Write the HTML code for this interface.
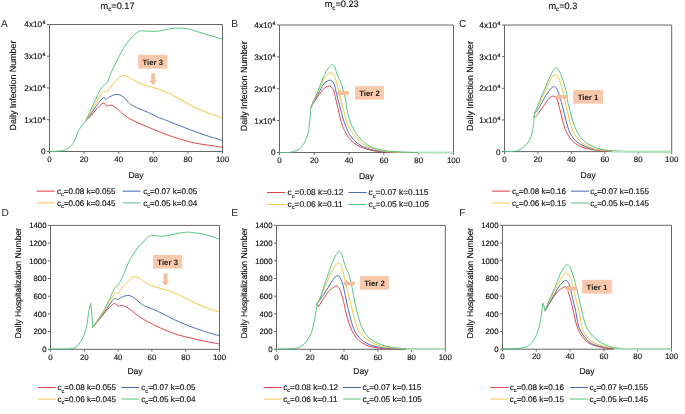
<!DOCTYPE html>
<html><head><meta charset="utf-8"><style>
html,body{margin:0;padding:0;background:#fff;}
svg{display:block;will-change:transform;text-rendering:geometricPrecision;}
text{stroke:#111;stroke-width:0.15px;}
svg{font-family:"Liberation Sans", sans-serif;}
</style></head><body>
<svg width="685" height="414" viewBox="0 0 685 414">
<rect width="685" height="414" fill="#ffffff"/>
<text x="100.6" y="8.8" font-size="9.2" fill="#111">m<tspan font-size="6.2" dy="2.4">c</tspan><tspan dy="-2.4">=0.17</tspan></text>
<text x="324.7" y="7.1" font-size="9.2" fill="#111">m<tspan font-size="6.2" dy="2.4">c</tspan><tspan dy="-2.4">=0.23</tspan></text>
<text x="548.4" y="8.9" font-size="9.2" fill="#111">m<tspan font-size="6.2" dy="2.4">c</tspan><tspan dy="-2.4">=0.3</tspan></text>
<path d="M49.50,24.50 H222.50 V151.50" stroke="#666666" stroke-width="1" fill="none"/>
<path d="M49.50,24.50 V151.50 H222.50" stroke="#666666" stroke-width="1" fill="none"/>
<path d="M49.50,151.50 V153.80" stroke="#666666" stroke-width="1"/>
<text x="49.50" y="161.70" font-size="7.90" text-anchor="middle" font-weight="normal" fill="#111" >0</text>
<path d="M84.10,151.50 V153.80" stroke="#666666" stroke-width="1"/>
<text x="84.10" y="161.70" font-size="7.90" text-anchor="middle" font-weight="normal" fill="#111" >20</text>
<path d="M118.70,151.50 V153.80" stroke="#666666" stroke-width="1"/>
<text x="118.70" y="161.70" font-size="7.90" text-anchor="middle" font-weight="normal" fill="#111" >40</text>
<path d="M153.30,151.50 V153.80" stroke="#666666" stroke-width="1"/>
<text x="153.30" y="161.70" font-size="7.90" text-anchor="middle" font-weight="normal" fill="#111" >60</text>
<path d="M187.90,151.50 V153.80" stroke="#666666" stroke-width="1"/>
<text x="187.90" y="161.70" font-size="7.90" text-anchor="middle" font-weight="normal" fill="#111" >80</text>
<path d="M222.50,151.50 V153.80" stroke="#666666" stroke-width="1"/>
<text x="222.50" y="161.70" font-size="7.90" text-anchor="middle" font-weight="normal" fill="#111" >100</text>
<path d="M47.00,151.50 H49.50" stroke="#666666" stroke-width="1"/>
<text x="45.50" y="154.40" font-size="8.20" text-anchor="end" font-weight="normal" fill="#111" >0</text>
<path d="M47.00,119.75 H49.50" stroke="#666666" stroke-width="1"/>
<text x="45.30" y="122.65" font-size="8.2" text-anchor="end" fill="#111">1x10<tspan font-size="5.2" dy="-3.0" dx="0.3">4</tspan></text>
<path d="M47.00,88.00 H49.50" stroke="#666666" stroke-width="1"/>
<text x="45.30" y="90.90" font-size="8.2" text-anchor="end" fill="#111">2x10<tspan font-size="5.2" dy="-3.0" dx="0.3">4</tspan></text>
<path d="M47.00,56.25 H49.50" stroke="#666666" stroke-width="1"/>
<text x="45.30" y="59.15" font-size="8.2" text-anchor="end" fill="#111">3x10<tspan font-size="5.2" dy="-3.0" dx="0.3">4</tspan></text>
<path d="M47.00,24.50 H49.50" stroke="#666666" stroke-width="1"/>
<text x="45.30" y="27.40" font-size="8.2" text-anchor="end" fill="#111">4x10<tspan font-size="5.2" dy="-3.0" dx="0.3">4</tspan></text>
<text x="136.00" y="177.50" font-size="8.50" text-anchor="middle" font-weight="normal" fill="#111" >Day</text>
<text transform="translate(16.20,85.50) rotate(-90)" font-size="8.88" text-anchor="middle" fill="#111">Daily Infection Number</text>
<text x="1.00" y="26.90" font-size="10.20" text-anchor="start" font-weight="normal" fill="#2a2a2a" style="stroke:none">A</text>
<path d="M279.50,25.00 H453.50 V152.50" stroke="#666666" stroke-width="1" fill="none"/>
<path d="M279.50,25.00 V152.50 H453.50" stroke="#666666" stroke-width="1" fill="none"/>
<path d="M279.50,152.50 V154.80" stroke="#666666" stroke-width="1"/>
<text x="279.50" y="162.70" font-size="7.90" text-anchor="middle" font-weight="normal" fill="#111" >0</text>
<path d="M314.30,152.50 V154.80" stroke="#666666" stroke-width="1"/>
<text x="314.30" y="162.70" font-size="7.90" text-anchor="middle" font-weight="normal" fill="#111" >20</text>
<path d="M349.10,152.50 V154.80" stroke="#666666" stroke-width="1"/>
<text x="349.10" y="162.70" font-size="7.90" text-anchor="middle" font-weight="normal" fill="#111" >40</text>
<path d="M383.90,152.50 V154.80" stroke="#666666" stroke-width="1"/>
<text x="383.90" y="162.70" font-size="7.90" text-anchor="middle" font-weight="normal" fill="#111" >60</text>
<path d="M418.70,152.50 V154.80" stroke="#666666" stroke-width="1"/>
<text x="418.70" y="162.70" font-size="7.90" text-anchor="middle" font-weight="normal" fill="#111" >80</text>
<path d="M453.50,152.50 V154.80" stroke="#666666" stroke-width="1"/>
<text x="453.50" y="162.70" font-size="7.90" text-anchor="middle" font-weight="normal" fill="#111" >100</text>
<path d="M277.00,152.50 H279.50" stroke="#666666" stroke-width="1"/>
<text x="275.50" y="155.40" font-size="8.20" text-anchor="end" font-weight="normal" fill="#111" >0</text>
<path d="M277.00,120.62 H279.50" stroke="#666666" stroke-width="1"/>
<text x="275.30" y="123.53" font-size="8.2" text-anchor="end" fill="#111">1x10<tspan font-size="5.2" dy="-3.0" dx="0.3">4</tspan></text>
<path d="M277.00,88.75 H279.50" stroke="#666666" stroke-width="1"/>
<text x="275.30" y="91.65" font-size="8.2" text-anchor="end" fill="#111">2x10<tspan font-size="5.2" dy="-3.0" dx="0.3">4</tspan></text>
<path d="M277.00,56.88 H279.50" stroke="#666666" stroke-width="1"/>
<text x="275.30" y="59.77" font-size="8.2" text-anchor="end" fill="#111">3x10<tspan font-size="5.2" dy="-3.0" dx="0.3">4</tspan></text>
<path d="M277.00,25.00 H279.50" stroke="#666666" stroke-width="1"/>
<text x="275.30" y="27.90" font-size="8.2" text-anchor="end" fill="#111">4x10<tspan font-size="5.2" dy="-3.0" dx="0.3">4</tspan></text>
<text x="366.50" y="178.50" font-size="8.50" text-anchor="middle" font-weight="normal" fill="#111" >Day</text>
<text transform="translate(246.80,86.30) rotate(-90)" font-size="8.88" text-anchor="middle" fill="#111">Daily Infection Number</text>
<text x="231.30" y="26.90" font-size="10.20" text-anchor="start" font-weight="normal" fill="#2a2a2a" style="stroke:none">B</text>
<path d="M504.50,25.00 H671.70 V151.60" stroke="#666666" stroke-width="1" fill="none"/>
<path d="M504.50,25.00 V151.60 H671.70" stroke="#666666" stroke-width="1" fill="none"/>
<path d="M504.50,151.60 V153.90" stroke="#666666" stroke-width="1"/>
<text x="504.50" y="161.80" font-size="7.90" text-anchor="middle" font-weight="normal" fill="#111" >0</text>
<path d="M537.94,151.60 V153.90" stroke="#666666" stroke-width="1"/>
<text x="537.94" y="161.80" font-size="7.90" text-anchor="middle" font-weight="normal" fill="#111" >20</text>
<path d="M571.38,151.60 V153.90" stroke="#666666" stroke-width="1"/>
<text x="571.38" y="161.80" font-size="7.90" text-anchor="middle" font-weight="normal" fill="#111" >40</text>
<path d="M604.82,151.60 V153.90" stroke="#666666" stroke-width="1"/>
<text x="604.82" y="161.80" font-size="7.90" text-anchor="middle" font-weight="normal" fill="#111" >60</text>
<path d="M638.26,151.60 V153.90" stroke="#666666" stroke-width="1"/>
<text x="638.26" y="161.80" font-size="7.90" text-anchor="middle" font-weight="normal" fill="#111" >80</text>
<path d="M671.70,151.60 V153.90" stroke="#666666" stroke-width="1"/>
<text x="671.70" y="161.80" font-size="7.90" text-anchor="middle" font-weight="normal" fill="#111" >100</text>
<path d="M502.00,151.60 H504.50" stroke="#666666" stroke-width="1"/>
<text x="500.50" y="154.50" font-size="8.20" text-anchor="end" font-weight="normal" fill="#111" >0</text>
<path d="M502.00,119.95 H504.50" stroke="#666666" stroke-width="1"/>
<text x="500.30" y="122.85" font-size="8.2" text-anchor="end" fill="#111">1x10<tspan font-size="5.2" dy="-3.0" dx="0.3">4</tspan></text>
<path d="M502.00,88.30 H504.50" stroke="#666666" stroke-width="1"/>
<text x="500.30" y="91.20" font-size="8.2" text-anchor="end" fill="#111">2x10<tspan font-size="5.2" dy="-3.0" dx="0.3">4</tspan></text>
<path d="M502.00,56.65 H504.50" stroke="#666666" stroke-width="1"/>
<text x="500.30" y="59.55" font-size="8.2" text-anchor="end" fill="#111">3x10<tspan font-size="5.2" dy="-3.0" dx="0.3">4</tspan></text>
<path d="M502.00,25.00 H504.50" stroke="#666666" stroke-width="1"/>
<text x="500.30" y="27.90" font-size="8.2" text-anchor="end" fill="#111">4x10<tspan font-size="5.2" dy="-3.0" dx="0.3">4</tspan></text>
<text x="588.10" y="177.60" font-size="8.50" text-anchor="middle" font-weight="normal" fill="#111" >Day</text>
<text transform="translate(473.30,86.00) rotate(-90)" font-size="8.88" text-anchor="middle" fill="#111">Daily Infection Number</text>
<text x="459.10" y="26.90" font-size="10.20" text-anchor="start" font-weight="normal" fill="#2a2a2a" style="stroke:none">C</text>
<path d="M50.50,225.40 H219.50 V349.30" stroke="#666666" stroke-width="1" fill="none"/>
<path d="M50.50,225.40 V349.30 H219.50" stroke="#666666" stroke-width="1" fill="none"/>
<path d="M50.50,349.30 V351.60" stroke="#666666" stroke-width="1"/>
<text x="50.50" y="359.50" font-size="7.90" text-anchor="middle" font-weight="normal" fill="#111" >0</text>
<path d="M84.30,349.30 V351.60" stroke="#666666" stroke-width="1"/>
<text x="84.30" y="359.50" font-size="7.90" text-anchor="middle" font-weight="normal" fill="#111" >20</text>
<path d="M118.10,349.30 V351.60" stroke="#666666" stroke-width="1"/>
<text x="118.10" y="359.50" font-size="7.90" text-anchor="middle" font-weight="normal" fill="#111" >40</text>
<path d="M151.90,349.30 V351.60" stroke="#666666" stroke-width="1"/>
<text x="151.90" y="359.50" font-size="7.90" text-anchor="middle" font-weight="normal" fill="#111" >60</text>
<path d="M185.70,349.30 V351.60" stroke="#666666" stroke-width="1"/>
<text x="185.70" y="359.50" font-size="7.90" text-anchor="middle" font-weight="normal" fill="#111" >80</text>
<path d="M219.50,349.30 V351.60" stroke="#666666" stroke-width="1"/>
<text x="219.50" y="359.50" font-size="7.90" text-anchor="middle" font-weight="normal" fill="#111" >100</text>
<path d="M48.00,349.30 H50.50" stroke="#666666" stroke-width="1"/>
<text x="46.50" y="352.15" font-size="7.80" text-anchor="end" font-weight="normal" fill="#111" >0</text>
<path d="M48.00,331.60 H50.50" stroke="#666666" stroke-width="1"/>
<text x="46.50" y="334.45" font-size="7.80" text-anchor="end" font-weight="normal" fill="#111" >200</text>
<path d="M48.00,313.90 H50.50" stroke="#666666" stroke-width="1"/>
<text x="46.50" y="316.75" font-size="7.80" text-anchor="end" font-weight="normal" fill="#111" >400</text>
<path d="M48.00,296.20 H50.50" stroke="#666666" stroke-width="1"/>
<text x="46.50" y="299.05" font-size="7.80" text-anchor="end" font-weight="normal" fill="#111" >600</text>
<path d="M48.00,278.50 H50.50" stroke="#666666" stroke-width="1"/>
<text x="46.50" y="281.35" font-size="7.80" text-anchor="end" font-weight="normal" fill="#111" >800</text>
<path d="M48.00,260.80 H50.50" stroke="#666666" stroke-width="1"/>
<text x="46.50" y="263.65" font-size="7.80" text-anchor="end" font-weight="normal" fill="#111" >1000</text>
<path d="M48.00,243.10 H50.50" stroke="#666666" stroke-width="1"/>
<text x="46.50" y="245.95" font-size="7.80" text-anchor="end" font-weight="normal" fill="#111" >1200</text>
<path d="M48.00,225.40 H50.50" stroke="#666666" stroke-width="1"/>
<text x="46.50" y="228.25" font-size="7.80" text-anchor="end" font-weight="normal" fill="#111" >1400</text>
<text x="135.00" y="373.90" font-size="8.50" text-anchor="middle" font-weight="normal" fill="#111" >Day</text>
<text transform="translate(21.10,283.20) rotate(-90)" font-size="8.64" text-anchor="middle" fill="#111">Daily Hospitalization Number</text>
<text x="1.40" y="215.50" font-size="10.20" text-anchor="start" font-weight="normal" fill="#2a2a2a" style="stroke:none">D</text>
<path d="M276.50,225.40 H445.30 V349.30" stroke="#666666" stroke-width="1" fill="none"/>
<path d="M276.50,225.40 V349.30 H445.30" stroke="#666666" stroke-width="1" fill="none"/>
<path d="M276.50,349.30 V351.60" stroke="#666666" stroke-width="1"/>
<text x="276.50" y="359.50" font-size="7.90" text-anchor="middle" font-weight="normal" fill="#111" >0</text>
<path d="M310.26,349.30 V351.60" stroke="#666666" stroke-width="1"/>
<text x="310.26" y="359.50" font-size="7.90" text-anchor="middle" font-weight="normal" fill="#111" >20</text>
<path d="M344.02,349.30 V351.60" stroke="#666666" stroke-width="1"/>
<text x="344.02" y="359.50" font-size="7.90" text-anchor="middle" font-weight="normal" fill="#111" >40</text>
<path d="M377.78,349.30 V351.60" stroke="#666666" stroke-width="1"/>
<text x="377.78" y="359.50" font-size="7.90" text-anchor="middle" font-weight="normal" fill="#111" >60</text>
<path d="M411.54,349.30 V351.60" stroke="#666666" stroke-width="1"/>
<text x="411.54" y="359.50" font-size="7.90" text-anchor="middle" font-weight="normal" fill="#111" >80</text>
<path d="M445.30,349.30 V351.60" stroke="#666666" stroke-width="1"/>
<text x="445.30" y="359.50" font-size="7.90" text-anchor="middle" font-weight="normal" fill="#111" >100</text>
<path d="M274.00,349.30 H276.50" stroke="#666666" stroke-width="1"/>
<text x="272.50" y="352.15" font-size="7.80" text-anchor="end" font-weight="normal" fill="#111" >0</text>
<path d="M274.00,331.60 H276.50" stroke="#666666" stroke-width="1"/>
<text x="272.50" y="334.45" font-size="7.80" text-anchor="end" font-weight="normal" fill="#111" >200</text>
<path d="M274.00,313.90 H276.50" stroke="#666666" stroke-width="1"/>
<text x="272.50" y="316.75" font-size="7.80" text-anchor="end" font-weight="normal" fill="#111" >400</text>
<path d="M274.00,296.20 H276.50" stroke="#666666" stroke-width="1"/>
<text x="272.50" y="299.05" font-size="7.80" text-anchor="end" font-weight="normal" fill="#111" >600</text>
<path d="M274.00,278.50 H276.50" stroke="#666666" stroke-width="1"/>
<text x="272.50" y="281.35" font-size="7.80" text-anchor="end" font-weight="normal" fill="#111" >800</text>
<path d="M274.00,260.80 H276.50" stroke="#666666" stroke-width="1"/>
<text x="272.50" y="263.65" font-size="7.80" text-anchor="end" font-weight="normal" fill="#111" >1000</text>
<path d="M274.00,243.10 H276.50" stroke="#666666" stroke-width="1"/>
<text x="272.50" y="245.95" font-size="7.80" text-anchor="end" font-weight="normal" fill="#111" >1200</text>
<path d="M274.00,225.40 H276.50" stroke="#666666" stroke-width="1"/>
<text x="272.50" y="228.25" font-size="7.80" text-anchor="end" font-weight="normal" fill="#111" >1400</text>
<text x="360.90" y="373.90" font-size="8.50" text-anchor="middle" font-weight="normal" fill="#111" >Day</text>
<text transform="translate(247.00,283.20) rotate(-90)" font-size="8.64" text-anchor="middle" fill="#111">Daily Hospitalization Number</text>
<text x="231.20" y="215.50" font-size="10.20" text-anchor="start" font-weight="normal" fill="#2a2a2a" style="stroke:none">E</text>
<path d="M502.50,225.30 H671.50 V349.20" stroke="#666666" stroke-width="1" fill="none"/>
<path d="M502.50,225.30 V349.20 H671.50" stroke="#666666" stroke-width="1" fill="none"/>
<path d="M502.50,349.20 V351.50" stroke="#666666" stroke-width="1"/>
<text x="502.50" y="359.40" font-size="7.90" text-anchor="middle" font-weight="normal" fill="#111" >0</text>
<path d="M536.30,349.20 V351.50" stroke="#666666" stroke-width="1"/>
<text x="536.30" y="359.40" font-size="7.90" text-anchor="middle" font-weight="normal" fill="#111" >20</text>
<path d="M570.10,349.20 V351.50" stroke="#666666" stroke-width="1"/>
<text x="570.10" y="359.40" font-size="7.90" text-anchor="middle" font-weight="normal" fill="#111" >40</text>
<path d="M603.90,349.20 V351.50" stroke="#666666" stroke-width="1"/>
<text x="603.90" y="359.40" font-size="7.90" text-anchor="middle" font-weight="normal" fill="#111" >60</text>
<path d="M637.70,349.20 V351.50" stroke="#666666" stroke-width="1"/>
<text x="637.70" y="359.40" font-size="7.90" text-anchor="middle" font-weight="normal" fill="#111" >80</text>
<path d="M671.50,349.20 V351.50" stroke="#666666" stroke-width="1"/>
<text x="671.50" y="359.40" font-size="7.90" text-anchor="middle" font-weight="normal" fill="#111" >100</text>
<path d="M500.00,349.20 H502.50" stroke="#666666" stroke-width="1"/>
<text x="498.50" y="352.05" font-size="7.80" text-anchor="end" font-weight="normal" fill="#111" >0</text>
<path d="M500.00,331.50 H502.50" stroke="#666666" stroke-width="1"/>
<text x="498.50" y="334.35" font-size="7.80" text-anchor="end" font-weight="normal" fill="#111" >200</text>
<path d="M500.00,313.80 H502.50" stroke="#666666" stroke-width="1"/>
<text x="498.50" y="316.65" font-size="7.80" text-anchor="end" font-weight="normal" fill="#111" >400</text>
<path d="M500.00,296.10 H502.50" stroke="#666666" stroke-width="1"/>
<text x="498.50" y="298.95" font-size="7.80" text-anchor="end" font-weight="normal" fill="#111" >600</text>
<path d="M500.00,278.40 H502.50" stroke="#666666" stroke-width="1"/>
<text x="498.50" y="281.25" font-size="7.80" text-anchor="end" font-weight="normal" fill="#111" >800</text>
<path d="M500.00,260.70 H502.50" stroke="#666666" stroke-width="1"/>
<text x="498.50" y="263.55" font-size="7.80" text-anchor="end" font-weight="normal" fill="#111" >1000</text>
<path d="M500.00,243.00 H502.50" stroke="#666666" stroke-width="1"/>
<text x="498.50" y="245.85" font-size="7.80" text-anchor="end" font-weight="normal" fill="#111" >1200</text>
<path d="M500.00,225.30 H502.50" stroke="#666666" stroke-width="1"/>
<text x="498.50" y="228.15" font-size="7.80" text-anchor="end" font-weight="normal" fill="#111" >1400</text>
<text x="587.00" y="373.80" font-size="8.50" text-anchor="middle" font-weight="normal" fill="#111" >Day</text>
<text transform="translate(473.30,283.20) rotate(-90)" font-size="8.64" text-anchor="middle" fill="#111">Daily Hospitalization Number</text>
<text x="459.20" y="215.50" font-size="10.20" text-anchor="start" font-weight="normal" fill="#2a2a2a" style="stroke:none">F</text>
<path d="M86.00,120.20 C87.27,118.92 90.10,116.68 91.70,115.00 C93.30,113.32 94.23,111.68 95.60,110.10 C96.97,108.52 98.65,106.65 99.90,105.50 C101.15,104.35 102.30,103.52 103.10,103.20 C103.90,102.88 104.43,103.53 104.70,103.60 C105.05,104.02 106.45,105.68 106.80,106.10 C107.42,105.95 109.35,105.20 110.50,105.20 C111.65,105.20 112.45,105.42 113.70,106.10 C114.95,106.78 116.62,108.10 118.00,109.30 C119.38,110.50 120.05,111.73 122.00,113.30 C123.95,114.87 126.87,117.03 129.70,118.70 C132.53,120.37 135.90,121.88 139.00,123.30 C142.10,124.72 145.20,125.92 148.30,127.20 C151.40,128.48 154.82,129.87 157.60,131.00 C160.38,132.13 161.70,132.78 165.00,134.00 C168.30,135.22 172.43,136.80 177.40,138.30 C182.37,139.80 189.00,141.77 194.80,143.00 C200.60,144.23 207.63,144.98 212.20,145.70 C216.77,146.42 220.53,147.03 222.20,147.30" stroke="#e2444c" stroke-width="1.00" fill="none" stroke-linejoin="round" stroke-linecap="round"/>
<path d="M86.00,120.20 C86.98,119.00 88.40,117.72 90.00,115.50 C91.60,113.28 93.95,109.27 95.60,106.90 C97.25,104.53 98.57,102.90 99.90,101.30 C101.23,99.70 102.98,97.97 103.60,97.30 C104.05,97.65 105.85,99.05 106.30,99.40 C106.83,99.00 108.27,97.75 109.50,97.00 C110.73,96.25 112.47,95.33 113.70,94.90 C114.93,94.47 115.65,94.32 116.90,94.40 C118.15,94.48 119.85,94.70 121.20,95.40 C122.55,96.10 123.78,97.40 125.00,98.60 C126.22,99.80 127.45,101.57 128.50,102.60 C129.55,103.63 129.55,103.80 131.30,104.80 C133.05,105.80 136.17,107.32 139.00,108.60 C141.83,109.88 145.20,111.08 148.30,112.50 C151.40,113.92 155.65,116.18 157.60,117.10 C159.55,118.02 157.98,117.23 160.00,118.00 C162.02,118.77 166.48,120.45 169.70,121.70 C172.92,122.95 176.08,124.22 179.30,125.50 C182.52,126.78 185.78,128.18 189.00,129.40 C192.22,130.62 195.38,131.67 198.60,132.80 C201.82,133.93 205.07,135.17 208.30,136.20 C211.53,137.23 215.68,138.28 218.00,139.00 C220.32,139.72 221.50,140.25 222.20,140.50" stroke="#4a6fb2" stroke-width="1.00" fill="none" stroke-linejoin="round" stroke-linecap="round"/>
<path d="M86.00,120.20 C86.98,118.70 88.40,116.45 90.00,113.70 C91.60,110.95 93.95,106.65 95.60,103.70 C97.25,100.75 98.65,98.00 99.90,96.00 C101.15,94.00 102.30,92.53 103.10,91.70 C103.90,90.87 104.43,91.12 104.70,91.00 C104.97,91.20 106.03,92.00 106.30,92.20 C106.65,91.77 107.33,90.83 108.40,89.60 C109.47,88.37 111.28,86.40 112.70,84.80 C114.12,83.20 115.60,81.38 116.90,80.00 C118.20,78.62 119.13,77.27 120.50,76.50 C121.87,75.73 123.57,75.20 125.10,75.40 C126.63,75.60 127.90,76.67 129.70,77.70 C131.50,78.73 133.58,80.43 135.90,81.60 C138.22,82.77 141.02,83.80 143.60,84.70 C146.18,85.60 148.82,86.23 151.40,87.00 C153.98,87.77 156.83,88.47 159.10,89.30 C161.37,90.13 163.23,91.27 165.00,92.00 C166.77,92.73 167.32,92.53 169.70,93.70 C172.08,94.87 176.08,97.23 179.30,99.00 C182.52,100.77 185.78,102.62 189.00,104.30 C192.22,105.98 195.38,107.65 198.60,109.10 C201.82,110.55 205.07,111.78 208.30,113.00 C211.53,114.22 215.67,115.60 218.00,116.40 C220.33,117.20 221.58,117.57 222.30,117.80" stroke="#f5c640" stroke-width="1.00" fill="none" stroke-linejoin="round" stroke-linecap="round"/>
<path d="M49.60,151.40 C50.50,151.38 53.07,151.40 55.00,151.30 C56.93,151.20 59.47,151.05 61.20,150.80 C62.93,150.55 64.18,150.23 65.40,149.80 C66.62,149.37 67.47,148.95 68.50,148.20 C69.53,147.45 70.65,146.47 71.60,145.30 C72.55,144.13 73.42,142.67 74.20,141.20 C74.98,139.73 75.70,138.07 76.30,136.50 C76.90,134.93 77.37,132.88 77.80,131.80 C78.23,130.72 78.37,130.82 78.90,130.00 C79.43,129.18 80.13,128.12 81.00,126.90 C81.87,125.68 83.27,123.82 84.10,122.70 C84.93,121.58 84.97,122.13 86.00,120.20 C87.03,118.27 88.70,114.57 90.30,111.10 C91.90,107.63 94.00,102.82 95.60,99.40 C97.20,95.98 98.73,92.77 99.90,90.60 C101.07,88.43 101.80,87.42 102.60,86.40 C103.40,85.38 104.08,84.95 104.70,84.50 C105.32,84.05 105.68,84.45 106.30,83.70 C106.92,82.95 107.77,81.45 108.40,80.00 C109.03,78.55 109.05,77.50 110.10,75.00 C111.15,72.50 113.15,68.22 114.70,65.00 C116.25,61.78 117.85,58.67 119.40,55.70 C120.95,52.73 122.47,49.65 124.00,47.20 C125.53,44.75 127.05,42.93 128.60,41.00 C130.15,39.07 131.75,37.10 133.30,35.60 C134.85,34.10 136.75,32.77 137.90,32.00 C139.05,31.23 138.92,31.17 140.20,31.00 C141.48,30.83 143.90,30.95 145.60,31.00 C147.30,31.05 148.83,31.25 150.40,31.30 C151.97,31.35 153.50,31.35 155.00,31.30 C156.50,31.25 157.60,31.30 159.40,31.00 C161.20,30.70 163.70,29.92 165.80,29.50 C167.90,29.08 169.85,28.75 172.00,28.50 C174.15,28.25 176.70,28.03 178.70,28.00 C180.70,27.97 182.28,28.12 184.00,28.30 C185.72,28.48 186.45,28.43 189.00,29.10 C191.55,29.77 195.45,31.13 199.30,32.30 C203.15,33.47 208.25,34.92 212.10,36.10 C215.95,37.28 220.68,38.85 222.40,39.40" stroke="#52c583" stroke-width="1.00" fill="none" stroke-linejoin="round" stroke-linecap="round"/>
<path d="M310.90,107.50 C311.28,106.78 312.38,104.48 313.20,103.20 C314.02,101.92 314.77,101.28 315.80,99.80 C316.83,98.32 318.20,96.00 319.40,94.30 C320.60,92.60 321.92,90.80 323.00,89.60 C324.08,88.40 324.93,87.72 325.90,87.10 C326.87,86.48 327.93,85.97 328.80,85.90 C329.67,85.83 330.33,86.05 331.10,86.70 C331.87,87.35 332.73,88.20 333.40,89.80 C334.07,91.40 334.60,94.32 335.10,96.30 C335.60,98.28 335.92,99.70 336.40,101.70 C336.88,103.70 337.45,105.93 338.00,108.30 C338.55,110.67 339.13,113.53 339.70,115.90 C340.27,118.27 340.77,120.43 341.40,122.50 C342.03,124.57 342.18,125.63 343.50,128.30 C344.82,130.97 346.88,135.60 349.30,138.50 C351.72,141.40 354.70,143.82 358.00,145.70 C361.30,147.58 365.55,148.82 369.10,149.80 C372.65,150.78 375.67,151.18 379.30,151.60 C382.93,152.02 384.12,152.15 390.90,152.30 C397.68,152.45 409.58,152.45 420.00,152.50 C430.42,152.55 447.83,152.58 453.40,152.60" stroke="#e2444c" stroke-width="1.00" fill="none" stroke-linejoin="round" stroke-linecap="round"/>
<path d="M310.90,107.50 C311.28,106.68 312.38,104.13 313.20,102.60 C314.02,101.07 314.77,100.12 315.80,98.30 C316.83,96.48 318.20,93.88 319.40,91.70 C320.60,89.52 321.92,86.83 323.00,85.20 C324.08,83.57 324.80,82.75 325.90,81.90 C327.00,81.05 328.63,80.27 329.60,80.10 C330.57,79.93 330.98,80.35 331.70,80.90 C332.42,81.45 333.30,82.10 333.90,83.40 C334.50,84.70 334.80,86.73 335.30,88.70 C335.80,90.67 336.37,93.03 336.90,95.20 C337.43,97.37 337.87,99.35 338.50,101.70 C339.13,104.05 339.97,106.58 340.70,109.30 C341.43,112.02 342.03,115.13 342.90,118.00 C343.77,120.87 344.52,123.33 345.90,126.50 C347.28,129.67 348.87,133.92 351.20,137.00 C353.53,140.08 356.67,142.95 359.90,145.00 C363.13,147.05 366.92,148.23 370.60,149.30 C374.28,150.37 377.10,150.90 382.00,151.40 C386.90,151.90 393.67,152.12 400.00,152.30 C406.33,152.48 411.10,152.45 420.00,152.50 C428.90,152.55 447.83,152.58 453.40,152.60" stroke="#4a6fb2" stroke-width="1.00" fill="none" stroke-linejoin="round" stroke-linecap="round"/>
<path d="M310.90,107.50 C311.28,106.55 312.38,103.58 313.20,101.80 C314.02,100.02 314.77,98.97 315.80,96.80 C316.83,94.63 318.20,91.45 319.40,88.80 C320.60,86.15 321.92,82.95 323.00,80.90 C324.08,78.85 324.93,77.72 325.90,76.50 C326.87,75.28 327.95,74.20 328.80,73.60 C329.65,73.00 330.27,72.83 331.00,72.90 C331.73,72.97 332.40,72.82 333.20,74.00 C334.00,75.18 335.08,77.92 335.80,80.00 C336.52,82.08 336.87,83.97 337.50,86.50 C338.13,89.03 338.88,92.30 339.60,95.20 C340.32,98.10 340.98,100.82 341.80,103.90 C342.62,106.98 343.58,110.43 344.50,113.70 C345.42,116.97 346.30,120.78 347.30,123.50 C348.30,126.22 349.28,127.98 350.50,130.00 C351.72,132.02 352.47,133.22 354.60,135.60 C356.73,137.98 360.15,142.08 363.30,144.30 C366.45,146.52 369.88,147.73 373.50,148.90 C377.12,150.07 380.58,150.73 385.00,151.30 C389.42,151.87 394.17,152.10 400.00,152.30 C405.83,152.50 411.10,152.45 420.00,152.50 C428.90,152.55 447.83,152.58 453.40,152.60" stroke="#f5c640" stroke-width="1.00" fill="none" stroke-linejoin="round" stroke-linecap="round"/>
<path d="M279.50,152.60 C280.75,152.58 285.08,152.57 287.00,152.50 C288.92,152.43 289.63,152.45 291.00,152.20 C292.37,151.95 293.87,151.48 295.20,151.00 C296.53,150.52 298.03,149.92 299.00,149.30 C299.97,148.68 300.33,148.10 301.00,147.30 C301.67,146.50 302.42,145.28 303.00,144.50 C303.58,143.72 303.95,143.60 304.50,142.60 C305.05,141.60 305.67,140.18 306.30,138.50 C306.93,136.82 307.80,134.58 308.30,132.50 C308.80,130.42 309.02,128.25 309.30,126.00 C309.58,123.75 309.80,121.42 310.00,119.00 C310.20,116.58 310.35,113.42 310.50,111.50 C310.65,109.58 310.83,108.17 310.90,107.50 C311.25,106.63 312.18,104.20 313.00,102.30 C313.82,100.40 314.73,98.58 315.80,96.10 C316.87,93.62 318.20,90.42 319.40,87.40 C320.60,84.38 321.92,80.60 323.00,78.00 C324.08,75.40 325.05,73.38 325.90,71.80 C326.75,70.22 327.28,69.53 328.10,68.50 C328.92,67.47 330.02,66.25 330.80,65.60 C331.58,64.95 332.12,64.37 332.80,64.60 C333.48,64.83 334.32,65.77 334.90,67.00 C335.48,68.23 335.67,70.17 336.30,72.00 C336.93,73.83 338.05,76.52 338.70,78.00 C339.35,79.48 339.63,79.55 340.20,80.90 C340.77,82.25 341.47,84.03 342.10,86.10 C342.73,88.17 343.38,90.93 344.00,93.30 C344.62,95.67 345.40,98.22 345.80,100.30 C346.20,102.38 346.02,103.38 346.40,105.80 C346.78,108.22 347.33,111.77 348.10,114.80 C348.87,117.83 350.02,121.47 351.00,124.00 C351.98,126.53 352.97,128.18 354.00,130.00 C355.03,131.82 355.28,132.63 357.20,134.90 C359.12,137.17 362.45,141.32 365.50,143.60 C368.55,145.88 372.00,147.40 375.50,148.60 C379.00,149.80 382.48,150.23 386.50,150.80 C390.52,151.37 394.02,151.72 399.60,152.00 C405.18,152.28 411.03,152.40 420.00,152.50 C428.97,152.60 447.83,152.58 453.40,152.60" stroke="#52c583" stroke-width="1.00" fill="none" stroke-linejoin="round" stroke-linecap="round"/>
<path d="M534.20,117.60 C534.37,117.53 534.52,117.88 535.20,117.20 C535.88,116.52 537.50,114.53 538.30,113.50 C539.10,112.47 539.10,112.27 540.00,111.00 C540.90,109.73 542.37,107.82 543.70,105.90 C545.03,103.98 546.73,101.02 548.00,99.50 C549.27,97.98 550.42,97.35 551.30,96.80 C552.18,96.25 552.47,96.05 553.30,96.20 C554.13,96.35 555.47,96.57 556.30,97.70 C557.13,98.83 557.75,101.23 558.30,103.00 C558.85,104.77 559.05,106.10 559.60,108.30 C560.15,110.50 560.93,113.52 561.60,116.20 C562.27,118.88 562.82,121.82 563.60,124.40 C564.38,126.98 565.18,129.38 566.30,131.70 C567.42,134.02 568.75,136.32 570.30,138.30 C571.85,140.28 573.40,142.05 575.60,143.60 C577.80,145.15 580.65,146.60 583.50,147.60 C586.35,148.60 589.23,149.03 592.70,149.60 C596.17,150.17 599.75,150.68 604.30,151.00 C608.85,151.32 614.05,151.40 620.00,151.50 C625.95,151.60 631.42,151.58 640.00,151.60 C648.58,151.62 666.25,151.60 671.50,151.60" stroke="#e2444c" stroke-width="1.00" fill="none" stroke-linejoin="round" stroke-linecap="round"/>
<path d="M534.20,117.60 C534.27,116.93 534.53,114.27 534.60,113.60 C535.22,112.85 537.40,110.33 538.30,109.10 C539.20,107.87 539.05,107.92 540.00,106.20 C540.95,104.48 542.67,101.12 544.00,98.80 C545.33,96.48 546.78,94.07 548.00,92.30 C549.22,90.53 550.32,89.15 551.30,88.20 C552.28,87.25 553.02,86.53 553.90,86.60 C554.78,86.67 555.82,87.50 556.60,88.60 C557.38,89.70 557.98,91.58 558.60,93.20 C559.22,94.82 559.68,96.23 560.30,98.30 C560.92,100.37 561.63,103.05 562.30,105.60 C562.97,108.15 563.63,110.93 564.30,113.60 C564.97,116.27 565.53,118.82 566.30,121.60 C567.07,124.38 567.80,127.63 568.90,130.30 C570.00,132.97 571.35,135.50 572.90,137.60 C574.45,139.70 575.98,141.35 578.20,142.90 C580.42,144.45 583.40,145.78 586.20,146.90 C589.00,148.02 591.03,148.93 595.00,149.60 C598.97,150.27 605.00,150.58 610.00,150.90 C615.00,151.22 620.00,151.38 625.00,151.50 C630.00,151.62 632.25,151.58 640.00,151.60 C647.75,151.62 666.25,151.60 671.50,151.60" stroke="#4a6fb2" stroke-width="1.00" fill="none" stroke-linejoin="round" stroke-linecap="round"/>
<path d="M534.20,117.60 C534.27,116.88 534.53,114.02 534.60,113.30 C535.08,112.42 536.60,109.80 537.50,108.00 C538.40,106.20 538.92,104.92 540.00,102.50 C541.08,100.08 542.67,96.45 544.00,93.50 C545.33,90.55 546.67,87.50 548.00,84.80 C549.33,82.10 550.78,78.98 552.00,77.30 C553.22,75.62 554.42,74.98 555.30,74.70 C556.18,74.42 556.53,74.52 557.30,75.60 C558.07,76.68 559.02,78.72 559.90,81.20 C560.78,83.68 561.87,87.70 562.60,90.50 C563.33,93.30 563.68,95.25 564.30,98.00 C564.92,100.75 565.63,104.18 566.30,107.00 C566.97,109.82 567.63,112.12 568.30,114.90 C568.97,117.68 569.53,121.02 570.30,123.70 C571.07,126.38 571.80,128.68 572.90,131.00 C574.00,133.32 575.35,135.62 576.90,137.60 C578.45,139.58 580.37,141.45 582.20,142.90 C584.03,144.35 585.77,145.23 587.90,146.30 C590.03,147.37 592.15,148.60 595.00,149.30 C597.85,150.00 600.83,150.15 605.00,150.50 C609.17,150.85 614.17,151.22 620.00,151.40 C625.83,151.58 631.42,151.57 640.00,151.60 C648.58,151.63 666.25,151.60 671.50,151.60" stroke="#f5c640" stroke-width="1.00" fill="none" stroke-linejoin="round" stroke-linecap="round"/>
<path d="M504.50,151.60 C505.42,151.58 508.15,151.58 510.00,151.50 C511.85,151.42 513.92,151.40 515.60,151.10 C517.28,150.80 518.58,150.52 520.10,149.70 C521.62,148.88 523.35,147.47 524.70,146.20 C526.05,144.93 527.13,143.75 528.20,142.10 C529.27,140.45 530.33,138.42 531.10,136.30 C531.87,134.18 532.35,131.72 532.80,129.40 C533.25,127.08 533.57,124.37 533.80,122.40 C534.03,120.43 534.13,118.40 534.20,117.60 C534.27,116.85 534.53,113.85 534.60,113.10 C535.03,112.08 536.30,109.18 537.20,107.00 C538.10,104.82 538.87,102.75 540.00,100.00 C541.13,97.25 542.67,93.63 544.00,90.50 C545.33,87.37 546.67,84.18 548.00,81.20 C549.33,78.22 550.90,74.67 552.00,72.60 C553.10,70.53 553.83,69.58 554.60,68.80 C555.37,68.02 555.93,67.77 556.60,67.90 C557.27,68.03 557.83,68.37 558.60,69.60 C559.37,70.83 560.32,73.03 561.20,75.30 C562.08,77.57 563.00,80.22 563.90,83.20 C564.80,86.18 565.98,90.23 566.60,93.20 C567.22,96.17 567.25,98.93 567.60,101.00 C567.95,103.07 568.18,103.50 568.70,105.60 C569.22,107.70 569.93,110.72 570.70,113.60 C571.47,116.48 572.30,120.02 573.30,122.90 C574.30,125.78 575.47,128.47 576.70,130.90 C577.93,133.33 578.98,135.40 580.70,137.50 C582.42,139.60 584.77,141.92 587.00,143.50 C589.23,145.08 591.70,146.03 594.10,147.00 C596.50,147.97 597.77,148.60 601.40,149.30 C605.03,150.00 611.13,150.83 615.90,151.20 C620.67,151.57 625.98,151.43 630.00,151.50 C634.02,151.57 633.08,151.58 640.00,151.60 C646.92,151.62 666.25,151.60 671.50,151.60" stroke="#52c583" stroke-width="1.00" fill="none" stroke-linejoin="round" stroke-linecap="round"/>
<path d="M92.90,327.20 C94.03,325.83 97.77,321.32 99.70,319.00 C101.63,316.68 102.90,315.22 104.50,313.30 C106.10,311.38 108.00,308.95 109.30,307.50 C110.60,306.05 111.53,305.25 112.30,304.60 C113.07,303.95 113.38,303.73 113.90,303.60 C114.42,303.47 114.67,303.37 115.40,303.80 C116.13,304.23 117.82,305.80 118.30,306.20 C118.78,306.08 120.12,305.50 121.20,305.50 C122.28,305.50 123.48,305.65 124.80,306.20 C126.12,306.75 127.65,307.83 129.10,308.80 C130.55,309.77 131.55,310.53 133.50,312.00 C135.45,313.47 137.97,315.75 140.80,317.60 C143.63,319.45 146.63,321.12 150.50,323.10 C154.37,325.08 159.50,327.57 164.00,329.50 C168.50,331.43 172.67,333.18 177.50,334.70 C182.33,336.22 187.85,337.40 193.00,338.60 C198.15,339.80 204.05,341.00 208.40,341.90 C212.75,342.80 217.32,343.65 219.10,344.00" stroke="#e2444c" stroke-width="1.00" fill="none" stroke-linejoin="round" stroke-linecap="round"/>
<path d="M92.90,327.20 C94.03,325.75 97.77,321.03 99.70,318.50 C101.63,315.97 102.90,314.25 104.50,312.00 C106.10,309.75 107.85,307.08 109.30,305.00 C110.75,302.92 112.17,300.58 113.20,299.50 C114.23,298.42 115.12,298.67 115.50,298.50 C115.85,298.70 117.25,299.50 117.60,299.70 C117.92,299.53 118.90,299.07 119.50,298.70 C120.10,298.33 119.83,298.05 121.20,297.50 C122.57,296.95 125.65,295.40 127.70,295.40 C129.75,295.40 131.32,296.15 133.50,297.50 C135.68,298.85 138.62,301.97 140.80,303.50 C142.98,305.03 143.70,305.37 146.60,306.70 C149.50,308.03 153.70,309.40 158.20,311.50 C162.70,313.60 168.45,316.88 173.60,319.30 C178.75,321.72 183.93,323.98 189.10,326.00 C194.27,328.02 199.60,329.78 204.60,331.40 C209.60,333.02 216.68,334.98 219.10,335.70" stroke="#4a6fb2" stroke-width="1.00" fill="none" stroke-linejoin="round" stroke-linecap="round"/>
<path d="M92.90,327.20 C94.03,325.67 97.77,320.73 99.70,318.00 C101.63,315.27 102.90,313.47 104.50,310.80 C106.10,308.13 107.85,304.55 109.30,302.00 C110.75,299.45 112.07,297.08 113.20,295.50 C114.33,293.92 115.62,293.00 116.10,292.50 C116.38,292.67 117.52,293.33 117.80,293.50 C118.08,293.15 118.93,292.15 119.50,291.40 C120.07,290.65 120.08,290.40 121.20,289.00 C122.32,287.60 124.63,284.72 126.20,283.00 C127.77,281.28 129.38,279.67 130.60,278.70 C131.82,277.73 132.53,277.48 133.50,277.20 C134.47,276.92 135.48,276.88 136.40,277.00 C137.32,277.12 137.95,277.30 139.00,277.90 C140.05,278.50 140.78,279.40 142.70,280.60 C144.62,281.80 147.60,283.80 150.50,285.10 C153.40,286.40 156.57,287.32 160.10,288.40 C163.63,289.48 167.83,290.15 171.70,291.60 C175.57,293.05 179.12,295.07 183.30,297.10 C187.48,299.13 192.62,301.88 196.80,303.80 C200.98,305.72 204.68,307.22 208.40,308.60 C212.12,309.98 217.32,311.52 219.10,312.10" stroke="#f5c640" stroke-width="1.00" fill="none" stroke-linejoin="round" stroke-linecap="round"/>
<path d="M50.40,349.00 C52.83,349.00 61.68,349.07 65.00,349.00 C68.32,348.93 68.63,348.85 70.30,348.60 C71.97,348.35 73.55,348.25 75.00,347.50 C76.45,346.75 77.78,345.55 79.00,344.10 C80.22,342.65 81.30,340.78 82.30,338.80 C83.30,336.82 84.22,334.63 85.00,332.20 C85.78,329.77 86.45,327.08 87.00,324.20 C87.55,321.32 87.87,317.77 88.30,314.90 C88.73,312.03 89.20,308.98 89.60,307.00 C90.00,305.02 90.52,303.67 90.70,303.00 C91.07,307.03 92.53,323.17 92.90,327.20 C93.58,326.17 95.82,322.78 97.00,321.00 C98.18,319.22 98.75,318.42 100.00,316.50 C101.25,314.58 103.03,312.17 104.50,309.50 C105.97,306.83 107.83,302.50 108.80,300.50 C109.77,298.50 109.57,299.08 110.30,297.50 C111.03,295.92 112.23,292.87 113.20,291.00 C114.17,289.13 115.25,287.37 116.10,286.30 C116.95,285.23 117.58,285.43 118.30,284.60 C119.02,283.77 119.57,282.93 120.40,281.30 C121.23,279.67 122.45,276.72 123.30,274.80 C124.15,272.88 124.58,271.95 125.50,269.80 C126.42,267.65 127.47,264.53 128.80,261.90 C130.13,259.27 131.92,256.48 133.50,254.00 C135.08,251.52 136.72,248.95 138.30,247.00 C139.88,245.05 141.43,243.93 143.00,242.30 C144.57,240.67 146.27,238.33 147.70,237.20 C149.13,236.07 150.03,235.75 151.60,235.50 C153.17,235.25 155.40,235.57 157.10,235.70 C158.80,235.83 159.75,236.38 161.80,236.30 C163.85,236.22 166.57,235.72 169.40,235.20 C172.23,234.68 175.65,233.72 178.80,233.20 C181.95,232.68 185.93,232.17 188.30,232.10 C190.67,232.03 190.92,232.55 193.00,232.80 C195.08,233.05 197.93,233.07 200.80,233.60 C203.67,234.13 207.12,235.03 210.20,236.00 C213.28,236.97 217.78,238.83 219.30,239.40" stroke="#52c583" stroke-width="1.00" fill="none" stroke-linejoin="round" stroke-linecap="round"/>
<path d="M317.10,303.80 C317.30,304.33 318.10,306.47 318.30,307.00 C319.38,305.30 322.67,299.80 324.80,296.80 C326.93,293.80 329.13,290.78 331.10,289.00 C333.07,287.22 335.25,286.23 336.60,286.10 C337.95,285.97 338.40,286.93 339.20,288.20 C340.00,289.47 340.68,291.48 341.40,293.70 C342.12,295.92 342.73,298.37 343.50,301.50 C344.27,304.63 344.83,308.17 346.00,312.50 C347.17,316.83 348.75,323.27 350.50,327.50 C352.25,331.73 354.00,335.03 356.50,337.90 C359.00,340.77 362.25,343.07 365.50,344.70 C368.75,346.33 372.25,347.00 376.00,347.70 C379.75,348.40 380.67,348.65 388.00,348.90 C395.33,349.15 410.50,349.13 420.00,349.20 C429.50,349.27 440.83,349.28 445.00,349.30" stroke="#e2444c" stroke-width="1.00" fill="none" stroke-linejoin="round" stroke-linecap="round"/>
<path d="M317.10,303.80 C318.38,301.98 322.47,296.42 324.80,292.90 C327.13,289.38 329.40,285.32 331.10,282.70 C332.80,280.08 333.82,278.38 335.00,277.20 C336.18,276.02 337.27,275.33 338.20,275.60 C339.13,275.87 339.80,277.23 340.60,278.80 C341.40,280.37 342.10,281.63 343.00,285.00 C343.90,288.37 345.05,294.67 346.00,299.00 C346.95,303.33 347.45,306.13 348.70,311.00 C349.95,315.87 351.70,323.72 353.50,328.20 C355.30,332.68 357.00,335.23 359.50,337.90 C362.00,340.57 365.25,342.65 368.50,344.20 C371.75,345.75 374.58,346.43 379.00,347.20 C383.42,347.97 388.17,348.47 395.00,348.80 C401.83,349.13 411.67,349.12 420.00,349.20 C428.33,349.28 440.83,349.28 445.00,349.30" stroke="#4a6fb2" stroke-width="1.00" fill="none" stroke-linejoin="round" stroke-linecap="round"/>
<path d="M317.10,303.80 C318.13,301.58 321.23,295.07 323.30,290.50 C325.37,285.93 327.68,280.32 329.50,276.40 C331.32,272.48 332.75,269.22 334.20,267.00 C335.65,264.78 337.08,263.37 338.20,263.10 C339.32,262.83 340.10,263.97 340.90,265.40 C341.70,266.83 342.08,268.27 343.00,271.70 C343.92,275.13 345.38,281.78 346.40,286.00 C347.42,290.22 348.08,292.83 349.10,297.00 C350.12,301.17 351.15,305.92 352.50,311.00 C353.85,316.08 355.28,323.13 357.20,327.50 C359.12,331.87 361.37,334.58 364.00,337.20 C366.63,339.82 369.77,341.63 373.00,343.20 C376.23,344.77 378.90,345.68 383.40,346.60 C387.90,347.52 393.90,348.27 400.00,348.70 C406.10,349.13 412.50,349.10 420.00,349.20 C427.50,349.30 440.83,349.28 445.00,349.30" stroke="#f5c640" stroke-width="1.00" fill="none" stroke-linejoin="round" stroke-linecap="round"/>
<path d="M276.10,349.00 C278.42,348.95 286.48,348.87 290.00,348.70 C293.52,348.53 295.03,348.60 297.20,348.00 C299.37,347.40 301.30,346.43 303.00,345.10 C304.70,343.77 306.07,341.93 307.40,340.00 C308.73,338.07 310.03,335.80 311.00,333.50 C311.97,331.20 312.55,328.87 313.20,326.20 C313.85,323.53 314.42,320.15 314.90,317.50 C315.38,314.85 315.73,312.58 316.10,310.30 C316.47,308.02 316.93,304.88 317.10,303.80 C317.60,302.90 318.82,301.67 320.10,298.40 C321.38,295.13 323.23,288.92 324.80,284.20 C326.37,279.48 327.93,274.42 329.50,270.10 C331.07,265.78 332.88,261.18 334.20,258.30 C335.52,255.42 336.48,253.97 337.40,252.80 C338.32,251.63 338.97,251.02 339.70,251.30 C340.43,251.58 341.18,253.08 341.80,254.50 C342.42,255.92 342.87,258.03 343.40,259.80 C343.93,261.57 344.47,263.58 345.00,265.10 C345.53,266.62 346.07,267.65 346.60,268.90 C347.13,270.15 347.67,271.10 348.20,272.60 C348.73,274.10 349.27,275.95 349.80,277.90 C350.33,279.85 350.93,282.20 351.40,284.30 C351.87,286.40 352.08,287.80 352.60,290.50 C353.12,293.20 353.83,297.25 354.50,300.50 C355.17,303.75 355.88,307.00 356.60,310.00 C357.32,313.00 357.98,315.75 358.80,318.50 C359.62,321.25 360.13,323.63 361.50,326.50 C362.87,329.37 364.58,333.05 367.00,335.70 C369.42,338.35 372.50,340.58 376.00,342.40 C379.50,344.22 383.52,345.55 388.00,346.60 C392.48,347.65 397.57,348.27 402.90,348.70 C408.23,349.13 412.98,349.10 420.00,349.20 C427.02,349.30 440.83,349.28 445.00,349.30" stroke="#52c583" stroke-width="1.00" fill="none" stroke-linejoin="round" stroke-linecap="round"/>
<path d="M545.10,310.80 C546.18,308.98 549.55,303.03 551.60,299.90 C553.65,296.77 555.35,294.12 557.40,292.00 C559.45,289.88 562.33,287.82 563.90,287.20 C565.47,286.58 565.80,286.62 566.80,288.30 C567.80,289.98 568.92,293.95 569.90,297.30 C570.88,300.65 571.53,303.62 572.70,308.40 C573.87,313.18 575.32,321.33 576.90,326.00 C578.48,330.67 580.18,333.53 582.20,336.40 C584.22,339.27 586.12,341.45 589.00,343.20 C591.88,344.95 595.77,345.98 599.50,346.90 C603.23,347.82 603.82,348.33 611.40,348.70 C618.98,349.07 635.02,349.03 645.00,349.10 C654.98,349.17 666.92,349.10 671.30,349.10" stroke="#e2444c" stroke-width="1.00" fill="none" stroke-linejoin="round" stroke-linecap="round"/>
<path d="M545.10,310.80 C545.70,309.72 547.13,307.08 548.70,304.30 C550.27,301.52 552.57,297.37 554.50,294.10 C556.43,290.83 558.50,286.98 560.30,284.70 C562.10,282.42 563.98,280.77 565.30,280.40 C566.62,280.03 567.35,281.18 568.20,282.50 C569.05,283.82 569.65,285.58 570.40,288.30 C571.15,291.02 571.82,294.97 572.70,298.80 C573.58,302.63 574.72,306.77 575.70,311.30 C576.68,315.83 577.28,321.93 578.60,326.00 C579.92,330.07 581.63,332.92 583.60,335.70 C585.57,338.48 587.67,340.93 590.40,342.70 C593.13,344.47 595.90,345.33 600.00,346.30 C604.10,347.27 607.50,348.03 615.00,348.50 C622.50,348.97 635.62,349.00 645.00,349.10 C654.38,349.20 666.92,349.10 671.30,349.10" stroke="#4a6fb2" stroke-width="1.00" fill="none" stroke-linejoin="round" stroke-linecap="round"/>
<path d="M545.10,310.80 C545.70,309.47 547.13,306.07 548.70,302.80 C550.27,299.53 552.57,295.07 554.50,291.20 C556.43,287.33 558.62,282.50 560.30,279.60 C561.98,276.70 563.52,274.88 564.60,273.80 C565.68,272.72 565.95,272.73 566.80,273.10 C567.65,273.47 568.85,274.43 569.70,276.00 C570.55,277.57 570.98,279.17 571.90,282.50 C572.82,285.83 574.20,291.83 575.20,296.00 C576.20,300.17 577.07,304.00 577.90,307.50 C578.73,311.00 579.50,313.75 580.20,317.00 C580.90,320.25 581.05,323.77 582.10,327.00 C583.15,330.23 584.52,333.78 586.50,336.40 C588.48,339.02 590.92,341.02 594.00,342.70 C597.08,344.38 600.67,345.53 605.00,346.50 C609.33,347.47 613.33,348.07 620.00,348.50 C626.67,348.93 636.45,349.00 645.00,349.10 C653.55,349.20 666.92,349.10 671.30,349.10" stroke="#f5c640" stroke-width="1.00" fill="none" stroke-linejoin="round" stroke-linecap="round"/>
<path d="M502.00,349.00 C504.17,348.93 511.15,348.88 515.00,348.60 C518.85,348.32 522.28,348.30 525.10,347.30 C527.92,346.30 530.07,344.52 531.90,342.60 C533.73,340.68 534.83,338.62 536.10,335.80 C537.37,332.98 538.60,329.37 539.50,325.70 C540.40,322.03 540.92,317.58 541.50,313.80 C542.08,310.02 542.75,304.80 543.00,303.00 C543.35,304.30 544.75,309.50 545.10,310.80 C545.70,309.23 547.13,305.15 548.70,301.40 C550.27,297.65 552.57,292.90 554.50,288.30 C556.43,283.70 558.62,277.42 560.30,273.80 C561.98,270.18 563.40,268.17 564.60,266.60 C565.80,265.03 566.63,264.37 567.50,264.40 C568.37,264.43 569.18,265.85 569.80,266.80 C570.42,267.75 570.63,268.58 571.20,270.10 C571.77,271.62 572.52,273.72 573.20,275.90 C573.88,278.08 574.58,280.53 575.30,283.20 C576.02,285.87 576.77,288.77 577.50,291.90 C578.23,295.03 578.93,298.63 579.70,302.00 C580.47,305.37 581.30,308.82 582.10,312.10 C582.90,315.38 583.50,318.68 584.50,321.70 C585.50,324.72 586.48,327.58 588.10,330.20 C589.72,332.82 591.98,335.28 594.20,337.40 C596.42,339.52 598.78,341.38 601.40,342.90 C604.02,344.42 606.80,345.60 609.90,346.50 C613.00,347.40 615.82,347.88 620.00,348.30 C624.18,348.72 630.83,348.87 635.00,349.00 C639.17,349.13 638.95,349.08 645.00,349.10 C651.05,349.12 666.92,349.10 671.30,349.10" stroke="#52c583" stroke-width="1.00" fill="none" stroke-linejoin="round" stroke-linecap="round"/>
<rect x="138.20" y="54.80" width="29.30" height="13.80" fill="#f7c8ab"/>
<text x="152.85" y="64.60" font-size="7.80" text-anchor="middle" font-weight="bold" fill="#1a1a1a" style="stroke:none">Tier 3</text>
<path d="M151.30,73.50 H155.10 V80.80 H157.10 L153.20,85.00 L149.30,80.80 H151.30 V80.80 Z" fill="#f4bd9c"/>
<rect x="355.10" y="86.10" width="28.80" height="13.60" fill="#f7c8ab"/>
<text x="369.50" y="96.10" font-size="7.80" text-anchor="middle" font-weight="bold" fill="#1a1a1a" style="stroke:none">Tier 2</text>
<path d="M336.40,93.00 L340.40,89.10 V91.10 H348.80 V94.90 H340.40 V96.90 Z" fill="#f4bd9c"/>
<rect x="573.20" y="90.00" width="29.80" height="13.70" fill="#f7c8ab"/>
<text x="588.10" y="99.70" font-size="7.80" text-anchor="middle" font-weight="bold" fill="#1a1a1a" style="stroke:none">Tier 1</text>
<path d="M555.40,96.80 L559.40,92.90 V94.90 H568.00 V98.70 H559.40 V100.70 Z" fill="#f4bd9c"/>
<rect x="153.10" y="255.00" width="29.10" height="13.60" fill="#f7c8ab"/>
<text x="167.65" y="265.00" font-size="7.80" text-anchor="middle" font-weight="bold" fill="#1a1a1a" style="stroke:none">Tier 3</text>
<path d="M163.70,273.50 H167.50 V281.40 H169.50 L165.60,285.60 L161.70,281.40 H163.70 V281.40 Z" fill="#f4bd9c"/>
<rect x="360.10" y="276.00" width="28.80" height="13.70" fill="#f7c8ab"/>
<text x="374.50" y="286.10" font-size="7.80" text-anchor="middle" font-weight="bold" fill="#1a1a1a" style="stroke:none">Tier 2</text>
<path d="M343.00,283.30 L347.00,279.40 V281.40 H355.00 V285.20 H347.00 V287.20 Z" fill="#f4bd9c"/>
<rect x="582.10" y="279.80" width="29.70" height="13.90" fill="#f7c8ab"/>
<text x="596.95" y="289.50" font-size="7.80" text-anchor="middle" font-weight="bold" fill="#1a1a1a" style="stroke:none">Tier 1</text>
<path d="M564.80,288.30 L568.80,284.40 V286.40 H576.80 V290.20 H568.80 V292.20 Z" fill="#f4bd9c"/>
<path d="M36.70,191.20 H54.70" stroke="#ec7b80" stroke-width="1.50"/>
<text x="57.00" y="194.00" font-size="8.10" fill="#111">c<tspan font-size="5.6" dy="2.4">c</tspan><tspan dy="-2.4">=0.08 k=0.055</tspan></text>
<path d="M122.60,191.20 H140.60" stroke="#7d9bd0" stroke-width="1.50"/>
<text x="143.20" y="194.00" font-size="8.10" fill="#111">c<tspan font-size="5.6" dy="2.4">c</tspan><tspan dy="-2.4">=0.07 k=0.05</tspan></text>
<path d="M36.70,202.80 H54.70" stroke="#f9d98a" stroke-width="1.50"/>
<text x="57.00" y="205.60" font-size="8.10" fill="#111">c<tspan font-size="5.6" dy="2.4">c</tspan><tspan dy="-2.4">=0.06 k=0.045</tspan></text>
<path d="M122.60,202.80 H140.60" stroke="#8fd8a8" stroke-width="1.50"/>
<text x="143.20" y="205.60" font-size="8.10" fill="#111">c<tspan font-size="5.6" dy="2.4">c</tspan><tspan dy="-2.4">=0.05 k=0.04</tspan></text>
<path d="M267.00,192.50 H285.00" stroke="#e2444c" stroke-width="1.00"/>
<text x="287.60" y="195.30" font-size="8.35" fill="#111">c<tspan font-size="5.6" dy="2.4">c</tspan><tspan dy="-2.4">=0.08 k=0.12</tspan></text>
<path d="M348.60,192.50 H366.60" stroke="#4a6fb2" stroke-width="1.00"/>
<text x="368.60" y="195.30" font-size="8.35" fill="#111">c<tspan font-size="5.6" dy="2.4">c</tspan><tspan dy="-2.4">=0.07 k=0.115</tspan></text>
<path d="M267.00,204.50 H285.00" stroke="#f5c640" stroke-width="1.00"/>
<text x="287.60" y="206.80" font-size="8.35" fill="#111">c<tspan font-size="5.6" dy="2.4">c</tspan><tspan dy="-2.4">=0.06 k=0.11</tspan></text>
<path d="M348.60,204.50 H366.60" stroke="#52c583" stroke-width="1.00"/>
<text x="368.60" y="206.80" font-size="8.35" fill="#111">c<tspan font-size="5.6" dy="2.4">c</tspan><tspan dy="-2.4">=0.05 k=0.105</tspan></text>
<path d="M492.00,191.20 H510.00" stroke="#ec7b80" stroke-width="1.50"/>
<text x="511.90" y="194.00" font-size="8.10" fill="#111">c<tspan font-size="5.6" dy="2.4">c</tspan><tspan dy="-2.4">=0.08 k=0.16</tspan></text>
<path d="M571.00,191.20 H589.00" stroke="#7d9bd0" stroke-width="1.50"/>
<text x="590.30" y="194.00" font-size="8.10" fill="#111">c<tspan font-size="5.6" dy="2.4">c</tspan><tspan dy="-2.4">=0.07 k=0.155</tspan></text>
<path d="M492.00,203.00 H510.00" stroke="#f9d98a" stroke-width="1.50"/>
<text x="511.90" y="205.80" font-size="8.10" fill="#111">c<tspan font-size="5.6" dy="2.4">c</tspan><tspan dy="-2.4">=0.06 k=0.15</tspan></text>
<path d="M571.00,203.00 H589.00" stroke="#8fd8a8" stroke-width="1.50"/>
<text x="590.30" y="205.80" font-size="8.10" fill="#111">c<tspan font-size="5.6" dy="2.4">c</tspan><tspan dy="-2.4">=0.05 k=0.145</tspan></text>
<path d="M37.90,387.50 H55.90" stroke="#e2444c" stroke-width="1.00"/>
<text x="57.50" y="390.30" font-size="8.10" fill="#111">c<tspan font-size="5.6" dy="2.4">c</tspan><tspan dy="-2.4">=0.08 k=0.055</tspan></text>
<path d="M121.20,387.50 H139.20" stroke="#4a6fb2" stroke-width="1.00"/>
<text x="141.30" y="390.30" font-size="8.10" fill="#111">c<tspan font-size="5.6" dy="2.4">c</tspan><tspan dy="-2.4">=0.07 k=0.05</tspan></text>
<path d="M37.90,399.10 H55.90" stroke="#f9d98a" stroke-width="1.50"/>
<text x="57.50" y="401.90" font-size="8.10" fill="#111">c<tspan font-size="5.6" dy="2.4">c</tspan><tspan dy="-2.4">=0.06 k=0.045</tspan></text>
<path d="M121.20,399.10 H139.20" stroke="#8fd8a8" stroke-width="1.50"/>
<text x="141.30" y="401.90" font-size="8.10" fill="#111">c<tspan font-size="5.6" dy="2.4">c</tspan><tspan dy="-2.4">=0.05 k=0.04</tspan></text>
<path d="M263.70,387.50 H281.70" stroke="#e2444c" stroke-width="1.00"/>
<text x="283.20" y="389.80" font-size="8.22" fill="#111">c<tspan font-size="5.6" dy="2.4">c</tspan><tspan dy="-2.4">=0.08 k=0.12</tspan></text>
<path d="M343.00,387.50 H361.00" stroke="#4a6fb2" stroke-width="1.00"/>
<text x="362.40" y="389.80" font-size="8.22" fill="#111">c<tspan font-size="5.6" dy="2.4">c</tspan><tspan dy="-2.4">=0.07 k=0.115</tspan></text>
<path d="M263.70,399.10 H281.70" stroke="#f9d98a" stroke-width="1.50"/>
<text x="283.20" y="401.90" font-size="8.22" fill="#111">c<tspan font-size="5.6" dy="2.4">c</tspan><tspan dy="-2.4">=0.06 k=0.11</tspan></text>
<path d="M343.00,399.10 H361.00" stroke="#8fd8a8" stroke-width="1.50"/>
<text x="362.40" y="401.90" font-size="8.22" fill="#111">c<tspan font-size="5.6" dy="2.4">c</tspan><tspan dy="-2.4">=0.05 k=0.105</tspan></text>
<path d="M490.30,387.50 H508.30" stroke="#e2444c" stroke-width="1.00"/>
<text x="509.80" y="389.80" font-size="8.10" fill="#111">c<tspan font-size="5.6" dy="2.4">c</tspan><tspan dy="-2.4">=0.08 k=0.16</tspan></text>
<path d="M570.00,387.50 H588.00" stroke="#4a6fb2" stroke-width="1.00"/>
<text x="589.40" y="389.80" font-size="8.10" fill="#111">c<tspan font-size="5.6" dy="2.4">c</tspan><tspan dy="-2.4">=0.07 k=0.155</tspan></text>
<path d="M490.30,399.10 H508.30" stroke="#f9d98a" stroke-width="1.50"/>
<text x="509.80" y="401.90" font-size="8.10" fill="#111">c<tspan font-size="5.6" dy="2.4">c</tspan><tspan dy="-2.4">=0.06 k=0.15</tspan></text>
<path d="M570.00,399.10 H588.00" stroke="#8fd8a8" stroke-width="1.50"/>
<text x="589.40" y="401.90" font-size="8.10" fill="#111">c<tspan font-size="5.6" dy="2.4">c</tspan><tspan dy="-2.4">=0.05 k=0.145</tspan></text>
<path d="M418.00,152.40 H453.00" stroke="#b4e0c4" stroke-width="1.8"/>
<path d="M612.00,151.50 H671.20" stroke="#b4e0c4" stroke-width="1.8"/>
<path d="M406.00,349.20 H444.80" stroke="#b4e0c4" stroke-width="1.8"/>
<path d="M614.00,349.10 H671.00" stroke="#b4e0c4" stroke-width="1.8"/>
</svg>
</body></html>
